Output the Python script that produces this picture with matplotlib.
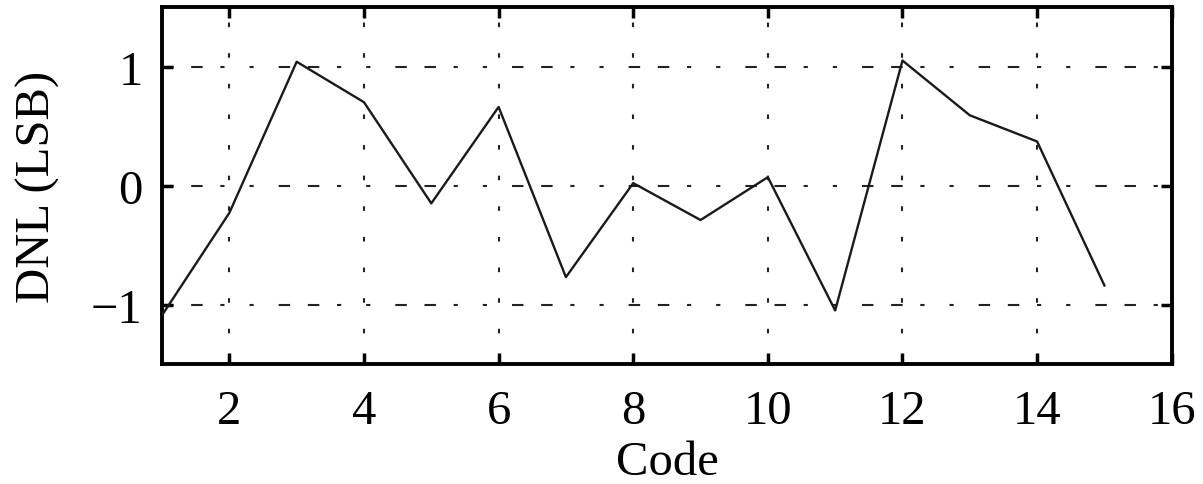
import matplotlib
matplotlib.use("Agg")
import matplotlib.pyplot as plt

codes = list(range(1, 16))
dnl = [-1.09, -0.23, 1.04, 0.70, -0.15, 0.66, -0.77, 0.02, -0.29, 0.07,
       -1.05, 1.05, 0.59, 0.37, -0.84]
xticks = [2, 4, 6, 8, 10, 12, 14, 16]
yticks = [-1, 0, 1]

plt.rcParams['font.family'] = ['Liberation Serif', 'DejaVu Serif']
plt.rcParams['mathtext.fontset'] = 'stix'

fig = plt.figure(figsize=(12.03, 4.85), dpi=100)
ax = fig.add_axes([0.1347, 0.2474, 0.974 - 0.1347, 0.9835 - 0.2474])

ax.plot(codes, dnl, color='#1a1a1a', linewidth=1.7, zorder=3)

ax.set_xlim(1, 16)
ax.set_ylim(-1.5, 1.5)
ax.set_xticks(xticks)
ax.set_yticks(yticks)

for x in xticks[:-1]:
    ax.axvline(x, color='#222222', linewidth=1.5, linestyle=(0, (2.2, 12.5)), zorder=1)
for y in yticks:
    ax.axhline(y, color='#222222', linewidth=1.5,
               linestyle=(0, (5.5, 8.5, 5.5, 8.5, 2, 12, 2, 12)), zorder=1)

ax.tick_params(axis='both', direction='in', length=8, width=2.5, top=True, right=True,
               labelsize=35)
ax.tick_params(axis='x', pad=18)
ax.tick_params(axis='y', pad=14)
for s in ax.spines.values():
    s.set_linewidth(2.8)

ax.set_xlabel('Code', fontsize=35, labelpad=5)
ax.set_ylabel('DNL (LSB)', fontsize=35, labelpad=22)

fig.savefig('out.png', dpi=100)
